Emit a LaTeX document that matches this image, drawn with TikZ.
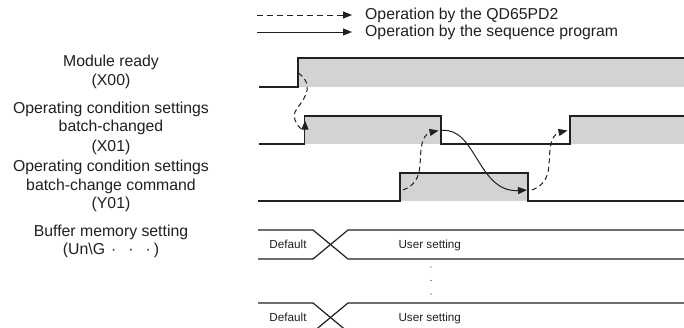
\documentclass[tikz,border=0pt]{standalone}
\usepackage{fontspec}
\setmainfont{Liberation Sans}
\usetikzlibrary{arrows.meta}
\definecolor{ink}{HTML}{231F20}
\definecolor{sig}{HTML}{D1D3D4}
\begin{document}
\begin{tikzpicture}[x=1bp,y=-1bp,
  sigline/.style={draw=ink,line width=1.2bp,line join=miter},
  sigfill/.style={fill=sig},
  flow/.style={draw=ink,line width=1bp,-{Triangle[length=9bp,width=7bp]}},
  qdflow/.style={flow,dash pattern=on 5bp off 3.5bp},
  lbl/.style={inner sep=0,anchor=base,font=\fontsize{15.8bp}{19bp}\selectfont,text=ink},
  leg/.style={lbl,anchor=base west},
  bustxt/.style={inner sep=0,anchor=base,font=\fontsize{11.7bp}{14bp}\selectfont,text=ink}]
\clip (0,0) rectangle (684,327);
\fill[white] (0,0) rectangle (684,327);
% legend
\coordinate (lg1s) at (257,15); \coordinate (lg1e) at (352,15);
\coordinate (lg2s) at (257,32); \coordinate (lg2e) at (352,32);
\draw[qdflow,dash pattern=on 6bp off 4bp] (lg1s) -- (lg1e);
\draw[flow] (lg2s) -- (lg2e);
\node[leg] (leg1) at (365,19.5) {Operation by the QD65PD2};
\node[leg] (leg2) at (365,36.5) {Operation by the sequence program};
% left labels
\node[lbl] (m1) at (111,66.7) {Module ready};
\node[lbl] (m2) at (111,85) {(X00)};
\node[lbl] (b1) at (111,113.3) {Operating condition settings};
\node[lbl] (b2) at (111,131.7) {batch-changed};
\node[lbl] (b3) at (111,151.2) {(X01)};
\node[lbl] (c1) at (111,171.7) {Operating condition settings};
\node[lbl] (c2) at (111,190) {batch-change command};
\node[lbl] (c3) at (111,208.3) {(Y01)};
\node[lbl] (d1) at (111,236.7) {Buffer memory setting};
\node[lbl] (d2) at (111,254.3) {(Un\textbackslash G\hspace{6bp}·\hspace{12bp}·\hspace{12bp}·\hspace{3bp})};
% X00
\fill[sig] (298,58) rectangle (684,87);
\draw[sigline] (259,87) -- (298,87) -- (298,58) -- (684,58);
% X01
\fill[sig] (304.5,116) rectangle (441,144);
\fill[sig] (570,116) rectangle (684,144);
\draw[sigline] (259,144) -- (304.5,144) -- (304.5,116) -- (441,116) -- (441,144) -- (570,144) -- (570,116) -- (684,116);
% Y01
\fill[sig] (400,173) rectangle (528,201);
\draw[sigline] (258,201) -- (400,201) -- (400,173) -- (528,173) -- (528,201) -- (684,201);
% buffer memory buses
\draw[sigline] (258,230) -- (313,230) -- (348,259) -- (684,259);
\draw[sigline] (258,259) -- (313,259) -- (348,230) -- (684,230);
\draw[sigline] (258,303) -- (313,303) -- (348,332) -- (684,332);
\draw[sigline] (258,332) -- (313,332) -- (348,303) -- (684,303);
\node[bustxt] (def1) at (288,248.3) {Default};
\node[bustxt,anchor=base west] (us1) at (398.3,248.3) {User setting};
\node[bustxt] (def2) at (288,321.7) {Default};
\node[bustxt,anchor=base west] (us2) at (398.3,321.7) {User setting};
\fill[ink] (431,267) circle (0.6bp);
\fill[ink] (431,280.5) circle (0.6bp);
\fill[ink] (431,294) circle (0.6bp);
% connectors
\coordinate (a1s) at (298.5,73); \coordinate (a1e) at (305,120.5);
\coordinate (a2s) at (403,190); \coordinate (a2e) at (438.5,130.5);
\coordinate (a3s) at (442,130.5); \coordinate (a3e) at (527,190);
\coordinate (a4s) at (532,190); \coordinate (a4e) at (567.5,130.5);
\draw[qdflow] (a1s) .. controls (318,88) and (300,102) .. (295,112) .. controls (291,122) and (305,134) .. (a1e);
\draw[qdflow] (a2s) .. controls (424,182) and (419,162) .. (421,150) .. controls (422,138) and (427,133) .. (a2e);
\draw[flow] (a3s) .. controls (476,127) and (478,193) .. (a3e);
\draw[qdflow] (a4s) .. controls (553,182) and (548,162) .. (550,150) .. controls (551,138) and (556,133) .. (a4e);
\end{tikzpicture}
\end{document}
